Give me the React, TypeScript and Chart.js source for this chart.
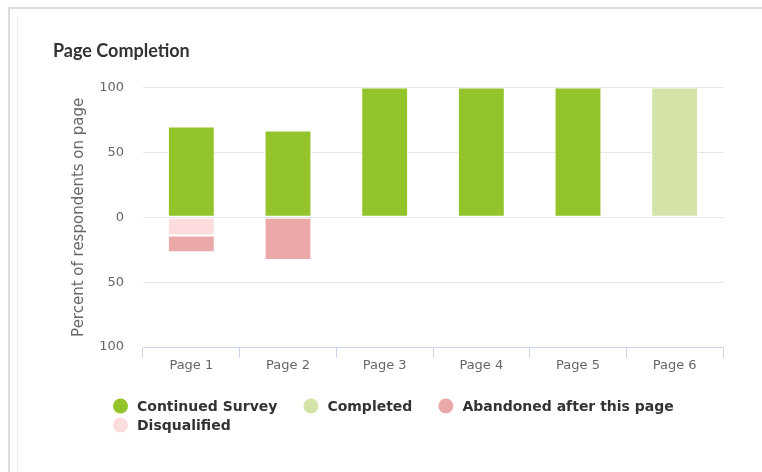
import React, { useEffect, useRef } from 'react';
import { Chart, registerables } from 'chart.js';

Chart.register(...registerables);

const categories = ['Page 1', 'Page 2', 'Page 3', 'Page 4', 'Page 5', 'Page 6'];
const continuedSurvey = [70, 67, 100, 100, 100, null];
const completed = [null, null, null, null, null, 100];
const abandoned = [-13, -33, null, null, null, null];
const disqualified = [-14, null, null, null, null, null];
const yMin = -100;
const yMax = 100;
const yStep = 50;

const seriesLabels = ['Continued Survey', 'Completed', 'Abandoned after this page', 'Disqualified'];
const seriesColors = ['#94c42b', '#d4e4a8', '#eaa9a8', '#fcdcdc'];

const legendPlugin = {
  id: 'customLegend',
  afterDraw(chart: any) {
    const ctx = chart.ctx as CanvasRenderingContext2D;
    const x0 = 113;
    const maxRight = 750;
    let x = x0;
    let y = 406;
    ctx.save();
    ctx.font = 'bold 14px "DejaVu Sans"';
    ctx.textBaseline = 'middle';
    ctx.textAlign = 'left';
    chart.data.datasets.forEach((ds: any) => {
      const tw = ctx.measureText(ds.label).width;
      const w = 24 + tw;
      if (x + w > maxRight && x !== x0) {
        x = x0;
        y += 19;
      }
      ctx.fillStyle = ds.backgroundColor;
      ctx.beginPath();
      ctx.arc(x + 7.5, y, 7.5, 0, Math.PI * 2);
      ctx.fill();
      ctx.fillStyle = '#333333';
      ctx.fillText(ds.label, x + 24, y + 1);
      x += w + 26;
    });
    ctx.restore();
  },
};

export default function App() {
  const ref = useRef<HTMLCanvasElement>(null);

  useEffect(() => {
    const common = {
      stack: 's',
      borderColor: '#ffffff',
      borderWidth: 1,
      borderSkipped: false,
      categoryPercentage: 1,
      barPercentage: 0.485,
    };
    const chart = new Chart(ref.current as HTMLCanvasElement, {
      type: 'bar',
      data: {
        labels: categories,
        datasets: [
          { ...common, label: seriesLabels[0], data: continuedSurvey, backgroundColor: seriesColors[0], order: 0 },
          { ...common, label: seriesLabels[1], data: completed, backgroundColor: seriesColors[1], order: 1 },
          { ...common, label: seriesLabels[2], data: abandoned, backgroundColor: seriesColors[2], order: 3 },
          { ...common, label: seriesLabels[3], data: disqualified, backgroundColor: seriesColors[3], order: 2 },
        ] as any,
      },
      options: {
        responsive: false,
        animation: false,
        devicePixelRatio: 1,
        layout: { padding: { left: 53, right: 39, top: 0, bottom: 99 } },
        plugins: {
          legend: { display: false },
          tooltip: { enabled: false },
          title: {
            display: true,
            text: 'Page Completion',
            align: 'start',
            color: '#333333',
            font: { family: 'Lato', size: 18, weight: 'bold' },
            padding: { top: 40, bottom: 26 },
          },
        },
        scales: {
          x: {
            stacked: true,
            grid: {
              offset: true,
              drawOnChartArea: false,
              drawTicks: true,
              tickLength: 11,
              color: '#ccd6eb',
            },
            border: { color: '#ccd6eb', width: 1 },
            ticks: {
              color: '#666666',
              font: { family: 'DejaVu Sans', size: 13 },
              padding: 0,
            },
            afterFit: (s: any) => {
              s.height = 26;
            },
          },
          y: {
            stacked: true,
            min: yMin,
            max: yMax,
            ticks: {
              stepSize: yStep,
              color: '#666666',
              font: { family: 'DejaVu Sans', size: 13 },
              padding: 19,
              callback: (v: any) => String(Math.abs(Number(v))),
            },
            grid: {
              drawTicks: false,
              color: (c: any) => (c.tick && c.tick.value === yMin ? 'rgba(0,0,0,0)' : '#e6e6e6'),
            },
            border: { display: false },
            title: {
              display: true,
              text: 'Percent of respondents on page',
              color: '#666666',
              font: { family: 'DejaVu Sans', size: 15 },
              padding: { top: 17, bottom: 0 },
            },
            afterFit: (s: any) => {
              s.width = 90;
            },
          },
        },
      } as any,
      plugins: [legendPlugin],
    });
    return () => chart.destroy();
  }, []);

  return (
    <div
      style={{
        position: 'fixed',
        left: 0,
        top: 0,
        width: 762,
        height: 472,
        background: '#ffffff',
        overflow: 'hidden',
      }}
    >
      <div
        style={{
          position: 'absolute',
          left: 8,
          top: 7,
          right: -10,
          bottom: -10,
          borderTop: '2px solid #dddddd',
          borderLeft: '2px solid #dddddd',
        }}
      />
      <div style={{ position: 'absolute', left: 17, top: 17, width: 1, bottom: 0, background: '#eeeeee' }} />
      <canvas
        ref={ref}
        width={762}
        height={472}
        style={{ position: 'absolute', left: 0, top: 0, width: 762, height: 472 }}
      />
    </div>
  );
}
